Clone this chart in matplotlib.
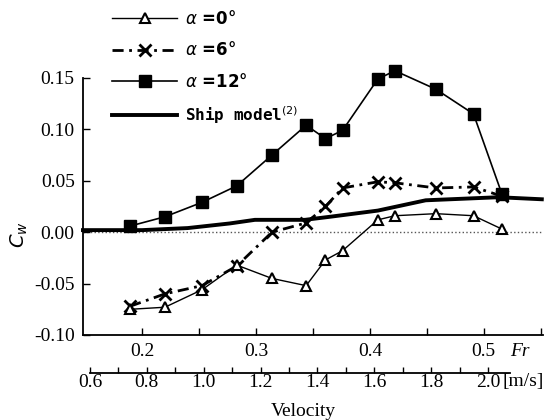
import numpy as np
import matplotlib
matplotlib.use('Agg')
import matplotlib.pyplot as plt

# Froude numbers of the measured points (same for all three angles)
fr = [0.1895, 0.220, 0.2525, 0.283, 0.314, 0.344, 0.361, 0.376, 0.407, 0.422, 0.458, 0.491, 0.516]

cw_a0 = [-0.075, -0.073, -0.056, -0.032, -0.045, -0.052, -0.027, -0.018, 0.012, 0.016, 0.018, 0.016, 0.003]
cw_a6 = [-0.072, -0.060, -0.052, -0.033, 0.000, 0.009, 0.025, 0.043, 0.049, 0.048, 0.043, 0.044, 0.035]
cw_a12 = [0.006, 0.015, 0.029, 0.045, 0.075, 0.104, 0.091, 0.099, 0.149, 0.157, 0.139, 0.115, 0.037]

# ship model curve
fr_ship = [0.148, 0.20, 0.24, 0.277, 0.299, 0.343, 0.365, 0.407, 0.449, 0.513, 0.551]
cw_ship = [0.002, 0.002, 0.004, 0.0085, 0.012, 0.012, 0.015, 0.021, 0.031, 0.034, 0.032]

fr_ticks = [0.2, 0.3, 0.4, 0.5]
cw_ticks = [-0.10, -0.05, 0.00, 0.05, 0.10, 0.15]
vel_ticks = [0.6, 0.8, 1.0, 1.2, 1.4, 1.6, 1.8, 2.0]

serif = 'Liberation Serif'

fig = plt.figure(figsize=(5.55, 4.2), dpi=100)
ax = fig.add_axes([0.1495, 0.2024, 0.8288, 0.612])

ax.axhline(0, color='#555555', lw=1.0, ls=':', zorder=1)
l0, = ax.plot(fr, cw_a0, color='black', lw=1.0, marker='^', ms=7, mfc='white',
              mec='black', mew=1.5, label=r'$\alpha$ =0°', clip_on=False, zorder=4)
l6, = ax.plot(fr, cw_a6, color='black', lw=2.0, ls=(0, (4, 2, 1, 2)), marker='x', ms=8,
              mew=2.0, label=r'$\alpha$ =6°', clip_on=False, zorder=3)
l12, = ax.plot(fr, cw_a12, color='black', lw=1.2, marker='s', ms=8,
               label=r'$\alpha$ =12°', clip_on=False, zorder=5)
ls_, = ax.plot(fr_ship, cw_ship, color='black', lw=2.8, label='Ship model$^{(2)}$',
               clip_on=False, zorder=2)

ax.set_xlim(0.148, 0.552)
ax.set_ylim(-0.10, 0.15)
ax.set_xticks(fr_ticks)
ax.set_xticklabels(['%.1f' % t for t in fr_ticks])
ax.set_xticks(np.arange(0.25, 0.56, 0.1), minor=True)
ax.set_yticks(cw_ticks)
ax.set_yticklabels(['%.2f' % t for t in cw_ticks])
for s in ['top', 'right']:
    ax.spines[s].set_visible(False)
for s in ['left', 'bottom']:
    ax.spines[s].set_linewidth(1.3)
ax.tick_params(which='both', direction='in', length=5, width=1.0, labelsize=14, pad=6)
for t in ax.get_xticklabels() + ax.get_yticklabels():
    t.set_fontfamily(serif)
ax.set_ylabel(r'$C_w$', fontsize=14)
ax.yaxis.set_label_coords(-0.115, 0.39)

trans = matplotlib.transforms.blended_transform_factory(ax.transData, ax.transAxes)
ax.text(0.523, -0.03, 'Fr', transform=trans, fontsize=14, fontfamily=serif,
        fontstyle='italic', va='top', ha='left')

# velocity axis below
ax2 = fig.add_axes([90 / 555, 1 - 373 / 420, 420 / 555, 0.0001])
ax2.set_xlim(0.6, 0.6 + 420 / 284.3)
ax2.set_yticks([])
for s in ['top', 'right', 'left']:
    ax2.spines[s].set_visible(False)
ax2.spines['bottom'].set_linewidth(1.3)
ax2.set_xticks(vel_ticks)
ax2.set_xticklabels(['%.1f' % v for v in vel_ticks])
ax2.set_xticks(np.arange(0.7, 2.05, 0.2), minor=True)
ax2.tick_params(which='both', direction='in', length=4, width=1.0, labelsize=14, pad=1)
for t in ax2.get_xticklabels():
    t.set_fontfamily(serif)
ax2.text(2.05, 0, '[m/s]', transform=ax2.transData, fontsize=14, fontfamily=serif,
         va='top', ha='left')

fig.text(303 / 555, 1 - 411 / 420, 'Velocity', fontsize=14, fontfamily=serif,
         ha='center', va='center')

leg = fig.legend(handles=[l0, l6, l12, ls_], loc='upper left',
                 bbox_to_anchor=(112 / 555, 1 - 10 / 420), frameon=False,
                 handlelength=3.9, handletextpad=0.5, labelspacing=0.8,
                 borderpad=0, borderaxespad=0, prop={'size': 12, 'weight': 'bold'})
leg.get_texts()[3].set_fontfamily('DejaVu Sans Mono')
leg.get_texts()[3].set_fontsize(11.5)

fig.savefig('out.png', dpi=100)
